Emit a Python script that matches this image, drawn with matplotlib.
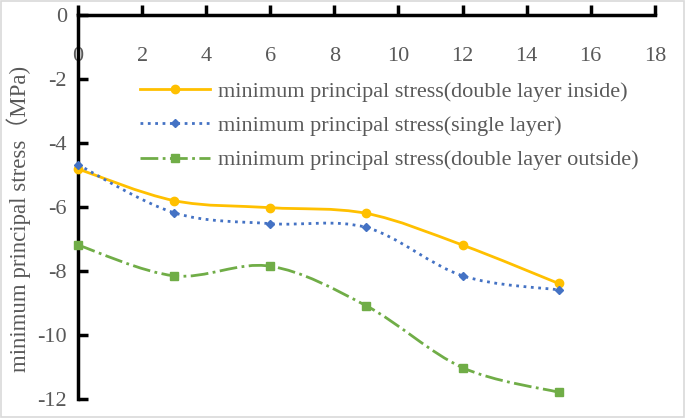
import matplotlib.pyplot as plt
from matplotlib.path import Path
from matplotlib.patches import PathPatch, Rectangle
from matplotlib.lines import Line2D

plt.rcParams['axes.unicode_minus'] = False

# data
x_vals = [0, 3, 6, 9, 12, 15]
inside = [-4.81, -5.80, -6.02, -6.20, -7.19, -8.39]
single = [-4.68, -6.18, -6.52, -6.64, -8.15, -8.59]
outside = [-7.19, -8.15, -7.85, -9.09, -11.02, -11.79]

labels = ['minimum principal stress(double layer inside)',
          'minimum principal stress(single layer)',
          'minimum principal stress(double layer outside)']
x_ticks = [0, 2, 4, 6, 8, 10, 12, 14, 16, 18]
y_ticks = [0, -2, -4, -6, -8, -10, -12]

TXT = '#595959'
SERIF = ['Liberation Serif', 'Noto Sans CJK SC']


def smooth_path(xs, ys):
    # Excel-like smoothed line: Catmull-Rom segments as cubic Bezier
    pts = list(zip(xs, ys))
    verts = [pts[0]]
    codes = [Path.MOVETO]
    n = len(pts)
    for i in range(n - 1):
        p0 = pts[i - 1] if i > 0 else pts[i]
        p1 = pts[i]
        p2 = pts[i + 1]
        p3 = pts[i + 2] if i + 2 < n else pts[i + 1]
        c1 = (p1[0] + (p2[0] - p0[0]) / 6, p1[1] + (p2[1] - p0[1]) / 6)
        c2 = (p2[0] - (p3[0] - p1[0]) / 6, p2[1] - (p3[1] - p1[1]) / 6)
        verts += [c1, c2, p2]
        codes += [Path.CURVE4] * 3
    return Path(verts, codes)


fig = plt.figure(figsize=(6.85, 4.18), dpi=100)
ax = fig.add_axes([0.1139, 0.0455, 0.842, 0.9185])

series = [
    (inside, '#FFC000', '-', 'o', 6),
    (single, '#4472C4', ':', 'D', 4.5),
    (outside, '#70AD47', '-.', 's', 5.5),
]
handles = []
for ys, col, ls, mk, ms in series:
    patch = PathPatch(smooth_path(x_vals, ys), fill=False, edgecolor=col,
                      lw=2.0, linestyle=ls, capstyle='butt', zorder=3)
    ax.add_patch(patch)
    ax.plot(x_vals, ys, ls='none', marker=mk, color=col, ms=ms, zorder=4,
            clip_on=False)
    handles.append(Line2D([], [], color=col, lw=2.0, ls=ls, marker=mk, ms=ms))

ax.set_xlim(0, 18)
ax.set_ylim(-12, 0)
ax.set_xticks(x_ticks)
ax.set_yticks(y_ticks)

for s in ['right', 'bottom']:
    ax.spines[s].set_visible(False)
ax.spines['top'].set_linewidth(2.5)
ax.spines['left'].set_linewidth(2.5)
ax.xaxis.set_ticks_position('top')
ax.tick_params(axis='x', direction='out', length=7, width=2.5, pad=-30,
               labelsize=16, labelcolor=TXT)
ax.tick_params(axis='y', direction='in', length=7, width=2.5, pad=8,
               labelsize=16, labelcolor=TXT)
ax.set_xticklabels([str(v) for v in x_ticks], va='top')
ax.set_yticklabels([str(v) for v in y_ticks])
for t in ax.get_xticklabels() + ax.get_yticklabels():
    t.set_fontfamily(SERIF)

ax.set_ylabel('minimum principal stress（MPa)', fontsize=16.5, color=TXT,
              family=SERIF)
ax.yaxis.set_label_coords(-0.082, 0.469)

leg = ax.legend(handles, labels, loc='upper left', bbox_to_anchor=(0.107, 0.828),
                frameon=False, handlelength=3.15, handletextpad=0.35,
                labelspacing=0.62, borderpad=0, borderaxespad=0,
                prop={'family': SERIF, 'size': 16})
for t in leg.get_texts():
    t.set_color(TXT)

fig.patches.append(Rectangle((0.002, 0.003), 0.996, 0.994, transform=fig.transFigure,
                             fill=False, edgecolor='#D9D9D9', lw=1.2))

fig.savefig('out.png', dpi=100)
